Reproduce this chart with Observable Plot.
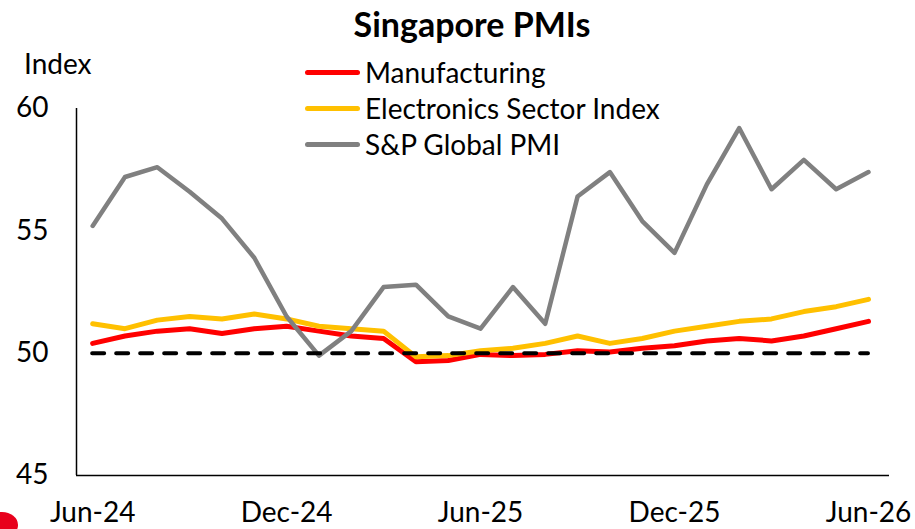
<!DOCTYPE html>
<html>
<head>
<meta charset="utf-8">
<script src="https://cdn.jsdelivr.net/npm/d3@7"></script>
<script src="https://cdn.jsdelivr.net/npm/@observablehq/plot@0.6"></script>
<style>
  html, body { margin: 0; padding: 0; background: #fff; }
  #wrap { position: relative; width: 915px; height: 529px; overflow: hidden; font-family: Lato, "Open Sans", sans-serif; color: #000; }
  #title { position: absolute; left: 0; width: 944px; top: 4px; text-align: center; font-weight: 700; font-size: 34px; line-height: 40px; }
  #ylab { position: absolute; left: 24px; top: 46px; font-size: 28px; line-height: 34px; }
  .leg { position: absolute; left: 305px; font-size: 28px; line-height: 34px; display: flex; align-items: center; }
  .leg span.sw { display: inline-block; width: 55px; height: 5px; border-radius: 3px; margin-right: 5px; }
  #logo { position: absolute; left: -14px; top: 512px; width: 32px; height: 26px; border-radius: 50%; background: #e8001c; }
  svg { position: absolute; left: 0; top: 0; }
</style>
</head>
<body>
<div id="wrap"></div>
<script>
const months = ["Jun-24","Jul-24","Aug-24","Sep-24","Oct-24","Nov-24","Dec-24","Jan-25","Feb-25","Mar-25","Apr-25","May-25","Jun-25","Jul-25","Aug-25","Sep-25","Oct-25","Nov-25","Dec-25","Jan-26","Feb-26","Mar-26","Apr-26","May-26","Jun-26"];
const manufacturing = [50.4,50.7,50.9,51.0,50.8,51.0,51.1,50.9,50.7,50.6,49.65,49.7,49.95,49.9,49.95,50.1,50.05,50.2,50.3,50.5,50.6,50.5,50.7,51.0,51.3];
const electronics = [51.2,51.0,51.35,51.5,51.4,51.6,51.4,51.1,51.0,50.9,49.85,49.9,50.1,50.2,50.4,50.7,50.4,50.6,50.9,51.1,51.3,51.4,51.7,51.9,52.2];
const spGlobal = [55.2,57.2,57.6,56.6,55.5,53.9,51.5,49.9,50.9,52.7,52.8,51.5,51.0,52.7,51.2,56.4,57.4,55.4,54.1,56.9,59.2,56.7,57.9,56.7,57.4];
const seriesNames = ["Manufacturing","Electronics Sector Index","S&P Global PMI"];
const seriesColors = ["#ff0000","#ffc000","#808080"];
const tickIdx = [0,6,12,18,24];
const yTicks = [45,50,55,60];
const threshold = 50;

const rows = [];
[manufacturing, electronics, spGlobal].forEach((arr, s) => arr.forEach((v, i) => rows.push({i, v, s: seriesNames[s]})));

const plot = Plot.plot({
  width: 915, height: 529,
  marginLeft: 76, marginRight: 26, marginTop: 108, marginBottom: 54,
  style: {fontFamily: "Lato, 'Open Sans', sans-serif", fontSize: "28px", background: "transparent", overflow: "visible"},
  x: {domain: [-0.5, 24.65], ticks: tickIdx, tickFormat: i => months[i], tickSize: 0, tickPadding: 27, label: null},
  y: {domain: [45, 60], ticks: yTicks, tickSize: 0, tickPadding: 28, label: null},
  color: {domain: seriesNames, range: seriesColors},
  marks: [
    Plot.ruleX([-0.5], {y1: 45, y2: 60, stroke: "#000", strokeWidth: 1.5}),
    Plot.ruleY([45], {stroke: "#000", strokeWidth: 1.5}),
    Plot.line(rows.filter(d => d.s === seriesNames[0]), {x: "i", y: "v", stroke: "s", strokeWidth: 5, strokeLinejoin: "round", strokeLinecap: "round"}),
    Plot.line(rows.filter(d => d.s === seriesNames[1]), {x: "i", y: "v", stroke: "s", strokeWidth: 5, strokeLinejoin: "round", strokeLinecap: "round"}),
    Plot.line(rows.filter(d => d.s === seriesNames[2]), {x: "i", y: "v", stroke: "s", strokeWidth: 4.5, strokeLinejoin: "round", strokeLinecap: "round"}),
    Plot.ruleY([threshold], {x1: 0, x2: 24, stroke: "#000", strokeWidth: 4, strokeDasharray: "12,12", strokeLinecap: "round"})
  ]
});

const wrap = document.getElementById("wrap");
wrap.appendChild(plot);
const t = document.createElement("div"); t.id = "title"; t.textContent = "Singapore PMIs"; wrap.appendChild(t);
const yl = document.createElement("div"); yl.id = "ylab"; yl.textContent = "Index"; wrap.appendChild(yl);
seriesNames.forEach((n, k) => {
  const d = document.createElement("div"); d.className = "leg"; d.style.top = (55 + 36 * k) + "px";
  const sw = document.createElement("span"); sw.className = "sw"; sw.style.background = seriesColors[k];
  d.appendChild(sw); d.appendChild(document.createTextNode(n)); wrap.appendChild(d);
});
const lg = document.createElement("div"); lg.id = "logo"; wrap.appendChild(lg);
</script>
</body>
</html>
